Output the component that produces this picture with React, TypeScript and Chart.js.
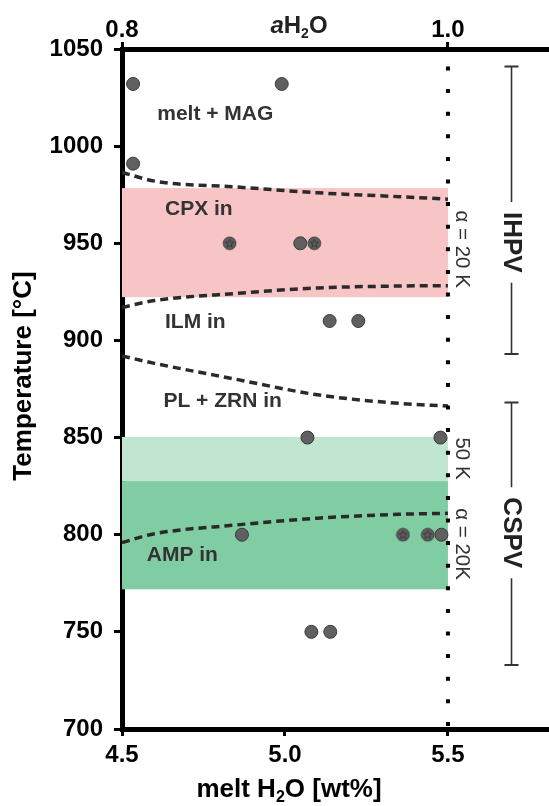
import React, { useEffect, useRef } from "react";
import { Chart, registerables } from "chart.js";

Chart.register(...registerables);

const FONT = '"Liberation Sans", Arial, Helvetica, sans-serif';

// axis ranges and ticks
const X_MIN = 4.5;
const X_MAX = 5.81;
const T_MIN = 700;
const T_MAX = 1050;
const xTicks = [4.5, 5.0, 5.5];
const yTicks = [700, 750, 800, 850, 900, 950, 1000, 1050];
const aH2OTicks = [0.8, 1.0]; // top axis (aH2O), 0.8 at 4.5 wt%, 1.0 at 5.5 wt%
const A_MIN = 0.8;
const A_PER_WT = 0.2;

// experiments (plain markers)
const plainX = [4.534, 4.99, 4.534, 5.047, 5.137, 5.225, 5.069, 5.477, 4.868, 5.48, 5.081, 5.139];
const plainT = [1032, 1032, 991, 950, 910, 910, 850, 850, 800, 800, 750, 750];
// experiments (star markers)
const starX = [4.83, 5.09, 5.362, 5.438];
const starT = [950, 950, 800, 800];

// phase-in curves
const curveX = [4.5, 4.6, 4.85, 5.1, 5.35, 5.5];
const cpxUpperT = [986.5, 982, 979, 976, 974, 972.7];
const ilmT = [917, 920.5, 924.2, 927, 928, 928.2];
const plZrnT = [892, 888.2, 880, 872, 867.6, 866.2];
const ampT = [796, 800.5, 805, 808.5, 810.5, 811];

// shaded bands
const bandX = [4.5, 5.5];
const cpxBandT = [922.3, 978.4];
const lightGreenBandT = [827.6, 850.3];
const darkGreenBandT = [771.9, 827.6];

// water saturation line (aH2O = 1)
const waterSatX = 5.5;
const waterSatT = [700, 1041];

// field labels
const fieldLabels = ["melt + MAG", "CPX in", "ILM in", "PL + ZRN in", "AMP in"];
const fieldLabelX = [4.608, 4.632, 4.632, 4.627, 4.576];
const fieldLabelT = [1016.5, 967.5, 909.5, 868.5, 789.2];

// side labels
const sideLabels = ["α = 20 K", "50 K", "α = 20K"];
const sideLabelX = 5.541;
const sideLabelT = [947, 839.2, 795.2];

// apparatus ranges
const apparatus = ["IHPV", "CSPV"];
const apparatusX = 5.695;
const apparatusTopT = [1041, 868];
const apparatusBottomT = [893, 733];
const apparatusMidT = [950.5, 801];

const PINK = "#f7c5c6";
const LIGHT_GREEN = "#c0e5d0";
const DARK_GREEN = "#80cca3";

function makeStarMarker(): HTMLCanvasElement {
  const c = document.createElement("canvas");
  const s = 15;
  c.width = s;
  c.height = s;
  const g = c.getContext("2d")!;
  g.beginPath();
  g.arc(s / 2, s / 2, 6.3, 0, 2 * Math.PI);
  g.fillStyle = "#606060";
  g.fill();
  g.lineWidth = 1;
  g.strokeStyle = "#3a3a3a";
  g.stroke();
  g.beginPath();
  for (let i = 0; i < 10; i++) {
    const r = i % 2 === 0 ? 4.4 : 1.9;
    const a = -Math.PI / 2 + (i * Math.PI) / 5;
    const px = s / 2 + r * Math.cos(a);
    const py = s / 2 + 0.3 + r * Math.sin(a);
    if (i === 0) g.moveTo(px, py);
    else g.lineTo(px, py);
  }
  g.closePath();
  g.strokeStyle = "#333";
  g.lineWidth = 0.9;
  g.stroke();
  return c;
}

type Part = { t: string; sub?: boolean; italic?: boolean };

function drawRich(ctx: CanvasRenderingContext2D, parts: Part[], cx: number, baseline: number, size: number) {
  const fontFor = (p: Part) =>
    `${p.italic ? "italic " : ""}bold ${p.sub ? Math.round(size * 0.6) : size}px ${FONT}`;
  let total = 0;
  const widths = parts.map((p) => {
    ctx.font = fontFor(p);
    const w = ctx.measureText(p.t).width;
    total += w;
    return w;
  });
  let x = cx - total / 2;
  ctx.textAlign = "left";
  ctx.textBaseline = "alphabetic";
  parts.forEach((p, i) => {
    ctx.font = fontFor(p);
    ctx.fillText(p.t, x, baseline + (p.sub ? size * 0.2 : 0));
    x += widths[i];
  });
}

const annotationPlugin = {
  id: "phaseAnnotations",
  afterLayout(chart: any) {
    // let the plot area run to the right edge of the canvas, as in the figure
    const ca = chart.chartArea;
    const right = chart.width;
    if (ca.right !== right) {
      ca.right = right;
      ca.width = right - ca.left;
      for (const id of ["x", "x2"]) {
        const s = chart.scales[id];
        s.right = right;
        s.width = right - s.left;
        s.configure();
      }
    }
  },
  beforeDatasetsDraw(chart: any) {
    const { ctx, scales } = chart;
    const x = scales.x;
    const y = scales.y;
    const bands: [number[], string][] = [
      [cpxBandT, PINK],
      [lightGreenBandT, LIGHT_GREEN],
      [darkGreenBandT, DARK_GREEN],
    ];
    ctx.save();
    for (const [t, col] of bands) {
      const x0 = x.getPixelForValue(bandX[0]);
      const x1 = x.getPixelForValue(bandX[1]);
      const y0 = y.getPixelForValue(t[1]);
      const y1 = y.getPixelForValue(t[0]);
      ctx.fillStyle = col;
      ctx.fillRect(x0, y0, x1 - x0, y1 - y0);
    }
    ctx.restore();
  },
  afterDatasetsDraw(chart: any) {
    const { ctx, scales } = chart;
    const x = scales.x;
    const y = scales.y;
    ctx.save();
    // field labels
    ctx.fillStyle = "#333";
    ctx.font = `bold 21px ${FONT}`;
    ctx.textAlign = "left";
    ctx.textBaseline = "middle";
    fieldLabels.forEach((lab, i) => {
      ctx.fillText(lab, x.getPixelForValue(fieldLabelX[i]), y.getPixelForValue(fieldLabelT[i]));
    });
    // side labels (rotated)
    ctx.font = `20.5px ${FONT}`;
    ctx.textAlign = "center";
    sideLabels.forEach((lab, i) => {
      ctx.save();
      ctx.translate(x.getPixelForValue(sideLabelX), y.getPixelForValue(sideLabelT[i]));
      ctx.rotate(Math.PI / 2);
      ctx.fillText(lab, 0, 0);
      ctx.restore();
    });
    // apparatus bars
    ctx.font = `bold 26px ${FONT}`;
    ctx.strokeStyle = "#333";
    ctx.fillStyle = "#222";
    apparatus.forEach((lab, i) => {
      const px = x.getPixelForValue(apparatusX);
      const yt = y.getPixelForValue(apparatusTopT[i]);
      const yb = y.getPixelForValue(apparatusBottomT[i]);
      const ym = y.getPixelForValue(apparatusMidT[i]);
      const w = ctx.measureText(lab).width;
      const gap = 10;
      ctx.lineWidth = 1.6;
      ctx.beginPath();
      ctx.moveTo(px, yt);
      ctx.lineTo(px, ym - w / 2 - gap);
      ctx.moveTo(px, ym + w / 2 + gap);
      ctx.lineTo(px, yb);
      ctx.stroke();
      ctx.lineWidth = 2;
      ctx.beginPath();
      ctx.moveTo(px - 7, yt);
      ctx.lineTo(px + 7, yt);
      ctx.moveTo(px - 7, yb);
      ctx.lineTo(px + 7, yb);
      ctx.stroke();
      ctx.save();
      ctx.translate(px, ym);
      ctx.rotate(Math.PI / 2);
      ctx.textAlign = "center";
      ctx.textBaseline = "middle";
      ctx.fillText(lab, 0, 0);
      ctx.restore();
    });
    ctx.restore();
  },
  afterDraw(chart: any) {
    const { ctx } = chart;
    ctx.save();
    ctx.fillStyle = "#000";
    // y title
    ctx.save();
    ctx.translate(24, 376);
    ctx.rotate(-Math.PI / 2);
    ctx.font = `bold 26px ${FONT}`;
    ctx.textAlign = "center";
    ctx.textBaseline = "middle";
    ctx.fillText("Temperature [°C]", 0, 0);
    ctx.restore();
    // x title
    drawRich(ctx, [{ t: "melt H" }, { t: "2", sub: true }, { t: "O [wt%]" }], 289, 797, 26);
    // top title
    ctx.fillStyle = "#222";
    drawRich(ctx, [{ t: "a", italic: true }, { t: "H" }, { t: "2", sub: true }, { t: "O" }], 299, 33, 24);
    ctx.restore();
  },
};

export default function App() {
  const ref = useRef<HTMLCanvasElement>(null);
  useEffect(() => {
    const canvas = ref.current;
    if (!canvas) return;
    const star = makeStarMarker();
    const pts = (xs: number[], ts: number[]) => xs.map((v, i) => ({ x: v, y: ts[i] }));
    const curveDs = (label: string, t: number[]) => ({
      label,
      data: pts(curveX, t),
      showLine: true,
      borderColor: "#2a2a2a",
      borderWidth: 3.5,
      borderDash: [8, 5],
      borderCapStyle: "butt",
      pointRadius: 0,
      cubicInterpolationMode: "monotone",
      fill: false,
    });
    const tickFont = { family: FONT, size: 24, weight: "bold", lineHeight: 1 };
    const chart = new Chart(canvas, {
      type: "scatter",
      data: {
        datasets: [
          {
            label: "star",
            data: pts(starX, starT),
            pointStyle: star,
            pointRadius: 7,
          },
          {
            label: "experiments",
            data: pts(plainX, plainT),
            pointRadius: 6.5,
            backgroundColor: "#606060",
            borderColor: "#3a3a3a",
            borderWidth: 1,
          },
          {
            label: "aH2O = 1",
            data: waterSatT.slice().reverse().map((t) => ({ x: waterSatX, y: t })),
            showLine: true,
            borderColor: "#000",
            borderWidth: 4,
            borderDash: [4, 18.6],
            pointRadius: 0,
          },
          curveDs("CPX in", cpxUpperT),
          curveDs("ILM in", ilmT),
          curveDs("PL + ZRN in", plZrnT),
          curveDs("AMP in", ampT),
        ] as any,
      },
      options: {
        animation: false,
        responsive: false,
        events: [],
        layout: { padding: 0 },
        plugins: { legend: { display: false }, tooltip: { enabled: false } },
        scales: {
          x: {
            type: "linear",
            position: "bottom",
            min: X_MIN,
            max: X_MAX,
            z: 1,
            afterBuildTicks: (s: any) => {
              s.ticks = xTicks.map((v) => ({ value: v }));
            },
            afterFit: (s: any) => {
              s.height = 77;
            },
            ticks: {
              font: tickFont,
              color: "#000",
              padding: 7,
              maxRotation: 0,
              autoSkip: false,
              callback: (v: any) => Number(v).toFixed(1),
            },
            grid: { drawOnChartArea: false, tickLength: 7, tickWidth: 3, tickColor: "#000" },
            border: { color: "#000", width: 5 },
          },
          x2: {
            type: "linear",
            position: "top",
            min: A_MIN,
            max: A_MIN + (X_MAX - X_MIN) * A_PER_WT,
            z: 1,
            afterBuildTicks: (s: any) => {
              s.ticks = aH2OTicks.map((v) => ({ value: v }));
            },
            afterFit: (s: any) => {
              s.height = 49;
            },
            ticks: {
              font: tickFont,
              color: "#000",
              padding: 0,
              maxRotation: 0,
              autoSkip: false,
              callback: (v: any) => Number(v).toFixed(1),
            },
            grid: { drawOnChartArea: false, tickLength: 7, tickWidth: 3, tickColor: "#000" },
            border: { color: "#000", width: 5 },
          },
          y: {
            type: "linear",
            position: "left",
            min: T_MIN,
            max: T_MAX,
            z: 1,
            afterBuildTicks: (s: any) => {
              s.ticks = yTicks.map((v) => ({ value: v }));
            },
            afterFit: (s: any) => {
              s.width = 122;
            },
            ticks: {
              font: tickFont,
              color: "#000",
              padding: 11,
              autoSkip: false,
              callback: (v: any) => String(v),
            },
            grid: { drawOnChartArea: false, tickLength: 8, tickWidth: 3, tickColor: "#000" },
            border: { color: "#000", width: 5 },
          },
        },
      } as any,
      plugins: [annotationPlugin],
    });
    return () => chart.destroy();
  }, []);
  return (
    <div style={{ position: "absolute", left: 0, top: 0, width: 549, height: 806 }}>
      <canvas ref={ref} width={549} height={806} style={{ display: "block" }} />
    </div>
  );
}
